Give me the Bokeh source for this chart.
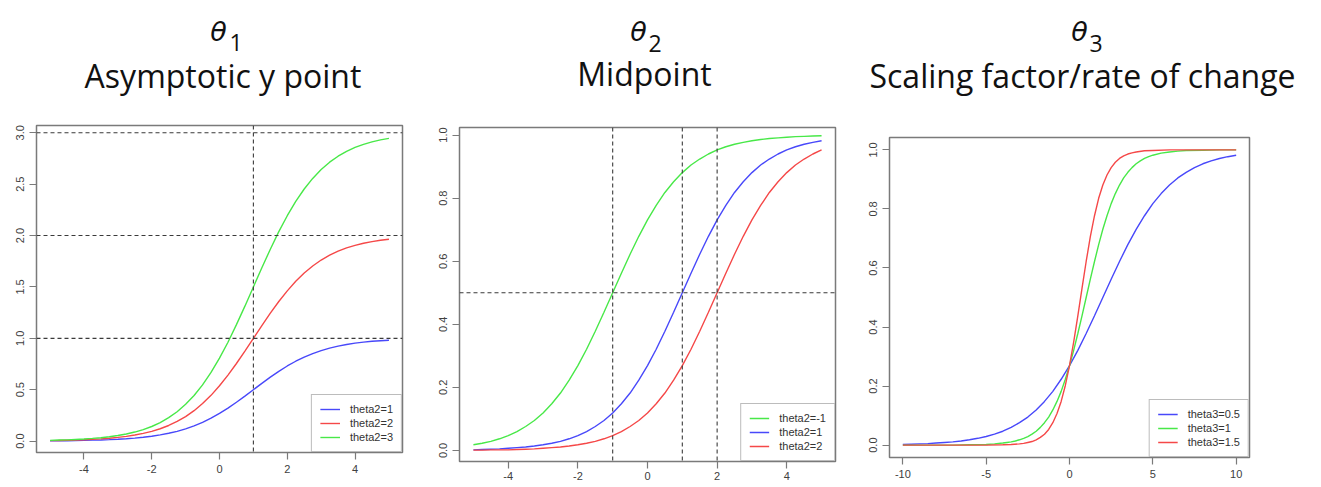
from bokeh.plotting import figure
from bokeh.layouts import row, column
from bokeh.models import Range1d, FixedTicker, Span, Legend, LegendItem, NumeralTickFormatter
from bokeh.embed import file_html
from bokeh.resources import INLINE
from bokeh.core.properties import value

# ---------------- data ----------------
x_ab = [-5.0, -4.75, -4.5, -4.25, -4.0, -3.75, -3.5, -3.25, -3.0, -2.75, -2.5, -2.25,
        -2.0, -1.75, -1.5, -1.25, -1.0, -0.75, -0.5, -0.25, 0.0, 0.25, 0.5, 0.75, 1.0,
        1.25, 1.5, 1.75, 2.0, 2.25, 2.5, 2.75, 3.0, 3.25, 3.5, 3.75, 4.0, 4.25, 4.5,
        4.75, 5.0]

# panel 1: asymptote theta1
theta1_labels = ["theta2=1", "theta2=2", "theta2=3"]
theta1_levels = [1.0, 2.0, 3.0]
theta1_mid = [1.0]
p1_blue = [0.002, 0.003, 0.004, 0.005, 0.007, 0.009, 0.011, 0.014, 0.018, 0.023, 0.029,
           0.037, 0.047, 0.060, 0.076, 0.095, 0.119, 0.148, 0.182, 0.223, 0.269, 0.321,
           0.378, 0.438, 0.500, 0.562, 0.622, 0.679, 0.731, 0.777, 0.818, 0.852, 0.881,
           0.905, 0.924, 0.940, 0.953, 0.963, 0.971, 0.977, 0.982]
p1_red = [0.005, 0.006, 0.008, 0.010, 0.013, 0.017, 0.022, 0.028, 0.036, 0.046, 0.059,
          0.075, 0.095, 0.120, 0.152, 0.191, 0.238, 0.296, 0.365, 0.445, 0.538, 0.642,
          0.755, 0.876, 1.000, 1.124, 1.245, 1.358, 1.462, 1.555, 1.635, 1.704, 1.762,
          1.809, 1.848, 1.880, 1.905, 1.925, 1.941, 1.954, 1.964]
p1_green = [0.007, 0.010, 0.012, 0.016, 0.020, 0.026, 0.033, 0.042, 0.054, 0.069, 0.088,
            0.112, 0.142, 0.180, 0.228, 0.286, 0.358, 0.444, 0.547, 0.668, 0.807, 0.962,
            1.133, 1.313, 1.500, 1.687, 1.867, 2.038, 2.193, 2.332, 2.453, 2.556, 2.642,
            2.714, 2.772, 2.820, 2.858, 2.888, 2.912, 2.931, 2.946]

# panel 2: midpoint theta2
theta2_labels = ["theta2=-1", "theta2=1", "theta2=2"]
theta2_mids = [-1.0, 1.0, 2.0]
theta2_half = [0.5]
p2_green = [0.018, 0.023, 0.029, 0.037, 0.047, 0.060, 0.076, 0.095, 0.119, 0.148, 0.182,
            0.223, 0.269, 0.321, 0.378, 0.438, 0.500, 0.562, 0.622, 0.679, 0.731, 0.777,
            0.818, 0.852, 0.881, 0.905, 0.924, 0.940, 0.953, 0.963, 0.971, 0.977, 0.982,
            0.986, 0.989, 0.991, 0.993, 0.995, 0.996, 0.997, 0.998]
p2_blue = [0.002, 0.003, 0.004, 0.005, 0.007, 0.009, 0.011, 0.014, 0.018, 0.023, 0.029,
           0.037, 0.047, 0.060, 0.076, 0.095, 0.119, 0.148, 0.182, 0.223, 0.269, 0.321,
           0.378, 0.438, 0.500, 0.562, 0.622, 0.679, 0.731, 0.777, 0.818, 0.852, 0.881,
           0.905, 0.924, 0.940, 0.953, 0.963, 0.971, 0.977, 0.982]
p2_red = [0.001, 0.001, 0.002, 0.002, 0.002, 0.003, 0.004, 0.005, 0.007, 0.009, 0.011,
          0.014, 0.018, 0.023, 0.029, 0.037, 0.047, 0.060, 0.076, 0.095, 0.119, 0.148,
          0.182, 0.223, 0.269, 0.321, 0.378, 0.438, 0.500, 0.562, 0.622, 0.679, 0.731,
          0.777, 0.818, 0.852, 0.881, 0.905, 0.924, 0.940, 0.953]

# panel 3: scaling theta3
theta3_labels = ["theta3=0.5", "theta3=1", "theta3=1.5"]
x_c_blue = [-10.0, -9.5, -9.0, -8.5, -8.0, -7.5, -7.0, -6.5, -6.0, -5.5, -5.0, -4.5, -4.0,
            -3.5, -3.0, -2.5, -2.0, -1.5, -1.0, -0.5, 0.0, 0.5, 1.0, 1.5, 2.0, 2.5, 3.0,
            3.5, 4.0, 4.5, 5.0, 5.5, 6.0, 6.5, 7.0, 7.5, 8.0, 8.5, 9.0, 9.5, 10.0]
p3_blue = [0.002, 0.003, 0.004, 0.005, 0.007, 0.009, 0.011, 0.014, 0.018, 0.023, 0.029,
           0.037, 0.047, 0.060, 0.076, 0.095, 0.119, 0.148, 0.182, 0.223, 0.269, 0.321,
           0.378, 0.438, 0.500, 0.562, 0.622, 0.679, 0.731, 0.777, 0.818, 0.852, 0.881,
           0.905, 0.924, 0.940, 0.953, 0.963, 0.971, 0.977, 0.982]
x_c_green = [-10.0, -9.0, -8.0, -7.0, -6.0, -5.0, -4.5, -4.0, -3.75, -3.5, -3.25, -3.0,
             -2.75, -2.5, -2.25, -2.0, -1.75, -1.5, -1.25, -1.0, -0.75, -0.5, -0.25, 0.0,
             0.25, 0.5, 0.75, 1.0, 1.25, 1.5, 1.75, 2.0, 2.25, 2.5, 2.75, 3.0, 3.25, 3.5,
             3.75, 4.0, 4.25, 4.5, 4.75, 5.0, 5.5, 6.0, 6.5, 7.0, 8.0, 9.0, 10.0]
p3_green = [0.000, 0.000, 0.000, 0.000, 0.001, 0.002, 0.004, 0.007, 0.009, 0.011, 0.014,
            0.018, 0.023, 0.029, 0.037, 0.047, 0.060, 0.076, 0.095, 0.119, 0.148, 0.182,
            0.223, 0.269, 0.321, 0.378, 0.438, 0.500, 0.562, 0.622, 0.679, 0.731, 0.777,
            0.818, 0.852, 0.881, 0.905, 0.924, 0.940, 0.953, 0.963, 0.971, 0.977, 0.982,
            0.989, 0.993, 0.996, 0.998, 0.999, 1.000, 1.000]
x_c_red = [-10.0, -9.0, -8.0, -7.0, -6.0, -5.0, -4.0, -3.5, -3.0, -2.75, -2.5, -2.25,
           -2.0, -1.75, -1.5, -1.25, -1.0, -0.75, -0.5, -0.25, 0.0, 0.25, 0.5, 0.75, 1.0,
           1.25, 1.5, 1.75, 2.0, 2.25, 2.5, 2.75, 3.0, 3.25, 3.5, 3.75, 4.0, 4.5, 5.0,
           6.0, 7.0, 8.0, 9.0, 10.0]
p3_red = [0.000, 0.000, 0.000, 0.000, 0.000, 0.000, 0.001, 0.002, 0.004, 0.006, 0.009,
          0.012, 0.018, 0.026, 0.037, 0.053, 0.076, 0.107, 0.148, 0.202, 0.269, 0.349,
          0.438, 0.531, 0.622, 0.706, 0.777, 0.836, 0.881, 0.915, 0.940, 0.958, 0.971,
          0.980, 0.986, 0.990, 0.993, 0.997, 0.998, 1.000, 1.000, 1.000, 1.000, 1.000]

x_ticks_ab = [-4, -2, 0, 2, 4]
x_ticks_c = [-10, -5, 0, 5, 10]
y_ticks_1 = [0.0, 0.5, 1.0, 1.5, 2.0, 2.5, 3.0]
y_ticks_01 = [0.0, 0.2, 0.4, 0.6, 0.8, 1.0]

theta_syms = ["\u03b8", "\u03b8", "\u03b8"]
theta_subs = ["1", "2", "3"]
descs = ["Asymptotic y point", "Midpoint", "Scaling factor/rate of change"]

# ---------------- style ----------------
BLUE = "#4848fa"
RED = "#f54848"
GREEN = "#48e848"
FRAME = "#7a7a7a"
DASH = "#3a3a3a"
TICKFONT = "Liberation Sans"


def make_panel(xr, yr, fw, fh, borders, xticks, yticks):
    left, right, top, bottom = borders
    p = figure(title=None, frame_width=fw, frame_height=fh, frame_align=False,
               x_range=Range1d(*xr), y_range=Range1d(*yr),
               min_border_left=left, min_border_right=right,
               min_border_top=top, min_border_bottom=bottom,
               toolbar_location=None, output_backend="svg",
               background_fill_color="white", border_fill_color="white")
    p.grid.visible = False
    p.outline_line_color = FRAME
    p.outline_line_width = 1.5
    for ax in (p.xaxis[0], p.yaxis[0]):
        ax.axis_line_color = None
        ax.major_tick_line_color = FRAME
        ax.major_tick_line_width = 1.2
        ax.major_tick_out = 7
        ax.major_tick_in = 0
        ax.minor_tick_line_color = None
        ax.major_label_text_font = TICKFONT
        ax.major_label_text_font_size = "11px"
        ax.major_label_text_color = "#404040"
        ax.major_label_standoff = 5
    p.xaxis.ticker = FixedTicker(ticks=xticks)
    p.xaxis.major_label_overrides = {t: str(t) for t in xticks}
    p.yaxis.ticker = FixedTicker(ticks=yticks)
    p.yaxis.formatter = NumeralTickFormatter(format="0.0")
    p.yaxis.major_label_orientation = "vertical"
    return p


def add_legend(p, items):
    lg = Legend(items=items, location="bottom_right", margin=0, padding=8,
                spacing=2, glyph_width=20, glyph_height=12, label_height=12,
                label_standoff=10, label_text_font=TICKFONT,
                label_text_font_size="11px", label_text_color="#333333",
                border_line_color=FRAME, border_line_width=1.5,
                background_fill_color="white", background_fill_alpha=1.0)
    p.add_layout(lg)


def dash_span(p, loc, dim):
    p.add_layout(Span(location=loc, dimension=dim, line_color=DASH,
                      line_width=1.1, line_dash="4 3"))


# ---------------- panel 1 ----------------
p1 = make_panel((-5.4, 5.4), (-0.111, 3.071), 366, 327, (36, 28, 27, 35),
                x_ticks_ab, y_ticks_1)
for lv in theta1_levels:
    dash_span(p1, lv, "width")
for mv in theta1_mid:
    dash_span(p1, mv, "height")
r1b = p1.line(x_ab, p1_blue, line_color=BLUE, line_width=1.4)
r1r = p1.line(x_ab, p1_red, line_color=RED, line_width=1.4)
r1g = p1.line(x_ab, p1_green, line_color=GREEN, line_width=1.4)
add_legend(p1, [LegendItem(label=theta1_labels[0], renderers=[r1b]),
                LegendItem(label=theta1_labels[1], renderers=[r1r]),
                LegendItem(label=theta1_labels[2], renderers=[r1g])])

# ---------------- panel 2 ----------------
p2 = make_panel((-5.4, 5.4), (-0.035, 1.024), 376, 334, (29, 25, 29, 26),
                x_ticks_ab, y_ticks_01)
p2.xaxis.major_label_standoff = 3
for mv in theta2_mids:
    dash_span(p2, mv, "height")
for hv in theta2_half:
    dash_span(p2, hv, "width")
r2g = p2.line(x_ab, p2_green, line_color=GREEN, line_width=1.4)
r2b = p2.line(x_ab, p2_blue, line_color=BLUE, line_width=1.4)
r2r = p2.line(x_ab, p2_red, line_color=RED, line_width=1.4)
add_legend(p2, [LegendItem(label=theta2_labels[0], renderers=[r2g]),
                LegendItem(label=theta2_labels[1], renderers=[r2b]),
                LegendItem(label=theta2_labels[2], renderers=[r2r])])

# ---------------- panel 3 ----------------
p3 = make_panel((-10.8, 10.8), (-0.042, 1.042), 360, 320, (29, 72, 39, 30),
                x_ticks_c, y_ticks_01)
r3b = p3.line(x_c_blue, p3_blue, line_color=BLUE, line_width=1.4)
r3g = p3.line(x_c_green, p3_green, line_color=GREEN, line_width=1.4)
r3r = p3.line(x_c_red, p3_red, line_color=RED, line_width=1.4)
add_legend(p3, [LegendItem(label=theta3_labels[0], renderers=[r3b]),
                LegendItem(label=theta3_labels[1], renderers=[r3g]),
                LegendItem(label=theta3_labels[2], renderers=[r3r])])

# ---------------- titles ----------------
TF_H = 98
tf = figure(title=None, frame_width=1321, frame_height=TF_H, frame_align=False,
            x_range=Range1d(0, 1321),
            y_range=Range1d(TF_H, 0), toolbar_location=None, output_backend="svg",
            x_axis_type=None, y_axis_type=None, min_border=0,
            outline_line_color=None, background_fill_color="white",
            border_fill_color="white")
tf.grid.visible = False

title_cx = [222.5, 644.0, 1082.0]
sym_cx = [218.0, 638.0, 1079.0]
sub_lx = [229.0, 648.0, 1089.0]
desc_base = [75.0, 73.0, 75.0]
sym_base = [31.0, 31.0, 31.0]
sub_base = [42.0, 43.0, 43.0]

tf.text(x=title_cx, y=desc_base, text=descs, text_font=value("Open Sans"),
        text_font_size=value("32px"), text_align="center",
        text_baseline="alphabetic", text_color="#111111")
tf.text(x=sym_cx, y=sym_base, text=theta_syms, text_font=value("DejaVu Sans"),
        text_font_size=value("27px"), text_font_style="italic",
        text_align="center", text_baseline="alphabetic", text_color="#111111")
tf.text(x=sub_lx, y=sub_base, text=theta_subs, text_font=value("Open Sans"),
        text_font_size=value("23px"), text_align="left",
        text_baseline="alphabetic", text_color="#111111")

layout = column(tf, row(p1, p2, p3, spacing=0), spacing=0)

open("out.html", "w").write(file_html(layout, INLINE))
